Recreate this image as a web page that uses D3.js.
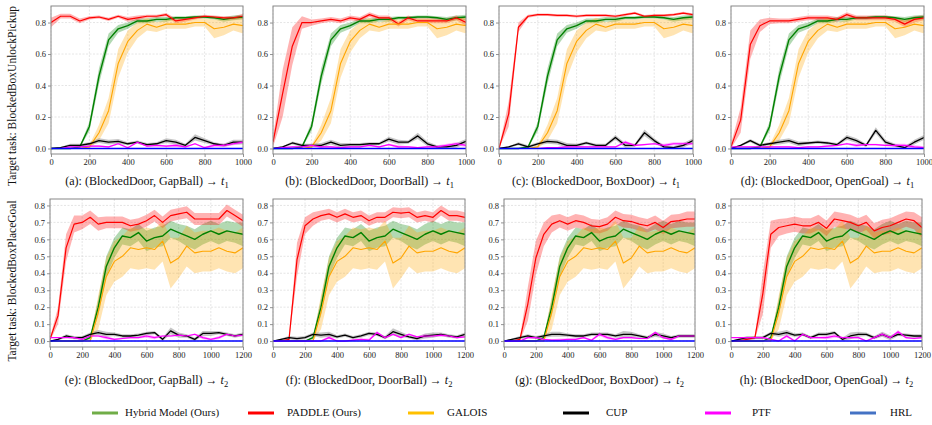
<!DOCTYPE html>
<html>
<head>
<meta charset="utf-8">
<script src="https://cdn.jsdelivr.net/npm/d3@7"></script>
<style>
    body { margin: 0; background: #fff; }
    svg text { font-family: "Liberation Serif", "Times New Roman", Times, "DejaVu Serif", serif !important; }
</style>
</head>
<body>
<svg id="chart" width="932" height="425"></svg>
<script>
// x steps
const stepsTop = [0, 50, 100, 150, 200, 250, 300, 350, 400, 450, 500, 550, 600, 650, 700, 750, 800, 850, 900, 950, 1000];
const stepsBottom = [0, 50, 100, 150, 200, 250, 300, 350, 400, 450, 500, 550, 600, 650, 700, 750, 800, 850, 900, 950, 1000, 1050, 1100, 1150, 1200];

const xTicksTop = [0, 200, 400, 600, 800, 1000];
const xTicksBottom = [0, 200, 400, 600, 800, 1000, 1200];
const yTicksTop = [0, 0.2, 0.4, 0.6, 0.8];
const yTicksBottom = [0, 0.1, 0.2, 0.3, 0.4, 0.5, 0.6, 0.7, 0.8];

const methods = ["Hybrid Model (Ours)", "PADDLE (Ours)", "GALOIS", "CUP", "PTF", "HRL"];
const rowTitles = ["Target task: BlockedBoxUnlockPickup", "Target task: BlockedBoxPlaceGoal"];
const captions = ["(a): (BlockedDoor, GapBall)", "(b): (BlockedDoor, DoorBall)", "(c): (BlockedDoor, BoxDoor)", "(d): (BlockedDoor, OpenGoal)",
                  "(e): (BlockedDoor, GapBall)", "(f): (BlockedDoor, DoorBall)", "(g): (BlockedDoor, BoxDoor)", "(h): (BlockedDoor, OpenGoal)"];

// ---- top row (target t1) ----
const greenTop = [0, 0, 0, 0.01, 0.14, 0.46, 0.69, 0.76, 0.78, 0.81, 0.81, 0.82, 0.82, 0.83, 0.83, 0.835, 0.835, 0.83, 0.82, 0.83, 0.835];
const greenTopSd = [0, 0, 0, 0.005, 0.03, 0.05, 0.04, 0.025, 0.02, 0.015, 0.015, 0.015, 0.015, 0.01, 0.01, 0.01, 0.01, 0.01, 0.015, 0.015, 0.015];
const orangeTop = [0, 0, 0, 0, 0.01, 0.10, 0.24, 0.54, 0.68, 0.75, 0.79, 0.77, 0.79, 0.79, 0.79, 0.80, 0.80, 0.76, 0.77, 0.79, 0.78];
const orangeTopSd = [0, 0, 0, 0, 0.01, 0.05, 0.08, 0.09, 0.07, 0.05, 0.04, 0.03, 0.03, 0.03, 0.03, 0.025, 0.025, 0.06, 0.05, 0.04, 0.05];

const redA = [0.80, 0.84, 0.84, 0.81, 0.83, 0.835, 0.82, 0.84, 0.82, 0.83, 0.84, 0.84, 0.85, 0.81, 0.82, 0.83, 0.84, 0.835, 0.83, 0.83, 0.84];
const redASd = [0.03, 0.015, 0.015, 0.015, 0.01, 0.01, 0.01, 0.01, 0.015, 0.015, 0.01, 0.01, 0.01, 0.015, 0.015, 0.01, 0.01, 0.01, 0.01, 0.01, 0.015];
const redB = [0.04, 0.35, 0.65, 0.80, 0.80, 0.81, 0.82, 0.81, 0.83, 0.82, 0.85, 0.83, 0.83, 0.79, 0.83, 0.81, 0.81, 0.81, 0.81, 0.83, 0.80];
const redBSd = [0.03, 0.15, 0.12, 0.04, 0.02, 0.015, 0.015, 0.015, 0.015, 0.015, 0.015, 0.015, 0.015, 0.015, 0.015, 0.015, 0.015, 0.015, 0.015, 0.015, 0.02];
const redC = [0.0, 0.22, 0.77, 0.84, 0.85, 0.85, 0.845, 0.845, 0.84, 0.845, 0.845, 0.845, 0.84, 0.85, 0.86, 0.84, 0.845, 0.845, 0.85, 0.86, 0.85];
const redCSd = [0.005, 0.08, 0.03, 0.01, 0.008, 0.008, 0.008, 0.008, 0.008, 0.008, 0.008, 0.008, 0.008, 0.008, 0.008, 0.008, 0.008, 0.008, 0.008, 0.008, 0.008];
const redD = [0.01, 0.18, 0.66, 0.78, 0.81, 0.81, 0.81, 0.82, 0.83, 0.83, 0.83, 0.82, 0.85, 0.83, 0.83, 0.83, 0.83, 0.82, 0.79, 0.82, 0.83];
const redDSd = [0.02, 0.08, 0.09, 0.04, 0.02, 0.015, 0.015, 0.015, 0.015, 0.015, 0.015, 0.015, 0.015, 0.015, 0.015, 0.015, 0.015, 0.015, 0.02, 0.02, 0.015];

const blackA = [0, 0.005, 0.02, 0.02, 0.03, 0.05, 0.04, 0.045, 0.03, 0.04, 0.025, 0.03, 0.05, 0.04, 0.02, 0.07, 0.05, 0.03, 0.02, 0.04, 0.04];
const blackB = [0, 0.01, 0.035, 0.02, 0.02, 0.02, 0.04, 0.02, 0.025, 0.025, 0.03, 0.03, 0.06, 0.04, 0.04, 0.08, 0.03, 0.01, 0.01, 0.02, 0.045];
const blackC = [0, 0.01, 0.03, 0.01, 0.03, 0.045, 0.04, 0.02, 0.02, 0.035, 0.02, 0.02, 0.07, 0.02, 0.02, 0.10, 0.05, 0.01, 0.005, 0.02, 0.05];
const blackD = [0, 0.02, 0.05, 0.02, 0.03, 0.04, 0.05, 0.03, 0.035, 0.04, 0.035, 0.025, 0.07, 0.05, 0.02, 0.115, 0.04, 0.02, 0.005, 0.04, 0.07];
const blackTopSd = [0, 0.005, 0.01, 0.01, 0.01, 0.015, 0.015, 0.015, 0.01, 0.01, 0.01, 0.01, 0.015, 0.015, 0.01, 0.02, 0.015, 0.01, 0.01, 0.015, 0.015];

const magA = [0, 0, 0.01, 0.01, 0.015, 0.015, 0.01, 0.03, 0.005, 0.04, 0.015, 0.02, 0.015, 0.02, 0.01, 0.03, 0.005, 0.02, 0.02, 0.03, 0.04];
const magB = [0, 0.005, 0.01, 0.01, 0.02, 0.01, 0.01, 0.005, 0.01, 0.01, 0.02, 0.01, 0.025, 0.01, 0.01, 0.005, 0.01, 0.01, 0.02, 0.03, 0.02];
const magC = [0, 0, 0, 0, 0, 0.005, 0.005, 0.01, 0.01, 0.01, 0.01, 0.01, 0.01, 0.04, 0.02, 0.025, 0.03, 0.02, 0.03, 0.03, 0.03];
const magD = [0.01, 0.01, 0.01, 0.01, 0.01, 0.01, 0.01, 0.005, 0.01, 0.01, 0.015, 0.02, 0.03, 0.02, 0.025, 0.025, 0.02, 0.02, 0.02, 0.01, 0.005];
const magTopSd = [0, 0, 0.005, 0.005, 0.005, 0.005, 0.005, 0.005, 0.005, 0.005, 0.005, 0.005, 0.005, 0.01, 0.005, 0.005, 0.005, 0.01, 0.01, 0.01, 0.01];

const hrlTop = [0, 0, 0, 0, 0, 0, 0, 0, 0, 0, 0, 0, 0, 0, 0, 0, 0, 0, 0, 0, 0];

// ---- bottom row (target t2) ----
const greenBot = [0, 0, 0, 0, 0, 0.02, 0.20, 0.44, 0.55, 0.62, 0.61, 0.64, 0.59, 0.61, 0.62, 0.66, 0.64, 0.62, 0.60, 0.63, 0.65, 0.63, 0.65, 0.64, 0.63];
const greenBotSd = [0, 0, 0, 0, 0, 0.01, 0.05, 0.06, 0.06, 0.05, 0.05, 0.05, 0.06, 0.06, 0.06, 0.05, 0.05, 0.06, 0.06, 0.06, 0.06, 0.06, 0.06, 0.06, 0.07];
const orangeBot = [0, 0, 0, 0, 0, 0, 0.17, 0.38, 0.47, 0.50, 0.55, 0.54, 0.55, 0.54, 0.59, 0.46, 0.49, 0.56, 0.52, 0.53, 0.53, 0.55, 0.53, 0.52, 0.55];
const orangeBotSd = [0, 0, 0, 0, 0, 0.01, 0.10, 0.11, 0.12, 0.12, 0.12, 0.12, 0.12, 0.12, 0.12, 0.15, 0.12, 0.12, 0.12, 0.12, 0.12, 0.12, 0.12, 0.12, 0.12];

const redE = [0.01, 0.15, 0.55, 0.69, 0.70, 0.73, 0.69, 0.70, 0.70, 0.70, 0.68, 0.69, 0.71, 0.74, 0.70, 0.74, 0.75, 0.76, 0.72, 0.72, 0.72, 0.72, 0.77, 0.74, 0.71];
const redESd = [0.01, 0.05, 0.08, 0.05, 0.04, 0.04, 0.04, 0.035, 0.035, 0.035, 0.035, 0.035, 0.035, 0.035, 0.035, 0.035, 0.035, 0.035, 0.035, 0.035, 0.035, 0.035, 0.035, 0.035, 0.035];
const redF = [0, 0, 0.01, 0.48, 0.68, 0.72, 0.74, 0.75, 0.73, 0.75, 0.73, 0.74, 0.71, 0.73, 0.73, 0.76, 0.755, 0.76, 0.73, 0.74, 0.73, 0.77, 0.74, 0.74, 0.73];
const redFSd = [0, 0, 0.01, 0.1, 0.05, 0.04, 0.03, 0.03, 0.03, 0.03, 0.03, 0.03, 0.03, 0.03, 0.03, 0.03, 0.03, 0.03, 0.03, 0.03, 0.03, 0.03, 0.03, 0.03, 0.03];
const redG = [0, 0, 0.01, 0.22, 0.49, 0.63, 0.69, 0.71, 0.69, 0.71, 0.70, 0.68, 0.675, 0.69, 0.73, 0.71, 0.705, 0.69, 0.68, 0.70, 0.67, 0.705, 0.71, 0.72, 0.72];
const redGSd = [0, 0, 0.01, 0.1, 0.1, 0.07, 0.05, 0.04, 0.04, 0.04, 0.04, 0.04, 0.04, 0.04, 0.04, 0.04, 0.04, 0.04, 0.04, 0.04, 0.04, 0.04, 0.04, 0.045, 0.045];
const redH = [0, 0, 0.01, 0.02, 0.28, 0.63, 0.67, 0.68, 0.69, 0.68, 0.68, 0.70, 0.665, 0.72, 0.71, 0.70, 0.68, 0.70, 0.65, 0.67, 0.68, 0.70, 0.72, 0.71, 0.67];
const redHSd = [0, 0, 0.01, 0.01, 0.12, 0.08, 0.05, 0.045, 0.045, 0.045, 0.045, 0.045, 0.045, 0.045, 0.045, 0.045, 0.045, 0.045, 0.045, 0.045, 0.045, 0.045, 0.045, 0.05, 0.06];

const blackE = [0, 0.01, 0.03, 0.02, 0.02, 0.04, 0.05, 0.04, 0.04, 0.03, 0.03, 0.035, 0.045, 0.05, 0.01, 0.06, 0.035, 0.03, 0.01, 0.045, 0.045, 0.05, 0.04, 0.03, 0.04];
const blackF = [0, 0.01, 0.02, 0.015, 0.02, 0.04, 0.035, 0.04, 0.025, 0.035, 0.02, 0.03, 0.045, 0.04, 0.02, 0.055, 0.04, 0.025, 0.015, 0.03, 0.035, 0.04, 0.03, 0.025, 0.04];
const blackG = [0, 0.01, 0.02, 0.03, 0.02, 0.03, 0.04, 0.04, 0.035, 0.03, 0.03, 0.04, 0.04, 0.04, 0.03, 0.04, 0.04, 0.03, 0.02, 0.04, 0.03, 0.02, 0.03, 0.03, 0.03];
const blackH = [0, 0.01, 0.02, 0.02, 0.02, 0.045, 0.04, 0.05, 0.035, 0.04, 0.02, 0.04, 0.04, 0.05, 0.01, 0.03, 0.04, 0.04, 0.02, 0.04, 0.02, 0.04, 0.035, 0.03, 0.03];
const blackBotSd = [0, 0.005, 0.01, 0.01, 0.01, 0.01, 0.015, 0.015, 0.01, 0.01, 0.01, 0.01, 0.01, 0.01, 0.01, 0.02, 0.015, 0.01, 0.01, 0.015, 0.015, 0.01, 0.01, 0.01, 0.01];

const magE = [0.02, 0.02, 0.02, 0.02, 0.01, 0.03, 0.03, 0.02, 0.01, 0.015, 0.02, 0.02, 0.03, 0.02, 0.03, 0.03, 0.035, 0.03, 0.04, 0.02, 0.01, 0.02, 0.04, 0.03, 0.035];
const magF = [0, 0, 0, 0, 0, 0, 0, 0.02, 0, 0, 0.005, 0.01, 0.005, 0.05, 0.02, 0.04, 0.02, 0.04, 0.025, 0.03, 0.03, 0.035, 0.03, 0.02, 0.025];
const magG = [0, 0, 0, 0.02, 0.02, 0.01, 0.005, 0.005, 0.01, 0.01, 0.02, 0.005, 0.04, 0.02, 0.01, 0.02, 0.02, 0.015, 0.015, 0.05, 0.02, 0.01, 0.03, 0.03, 0.03];
const magH = [0.02, 0.02, 0.02, 0.02, 0.02, 0.01, 0, 0.03, 0, 0.04, 0.02, 0.02, 0.02, 0.03, 0.02, 0.02, 0.02, 0, 0.02, 0.04, 0.02, 0.055, 0.02, 0.015, 0.02];
const magBotSd = [0, 0, 0, 0.005, 0.005, 0.005, 0.005, 0.01, 0.005, 0.005, 0.005, 0.005, 0.01, 0.01, 0.005, 0.005, 0.005, 0.005, 0.005, 0.01, 0.005, 0.01, 0.005, 0.005, 0.005];

const hrlBot = [0, 0, 0, 0, 0, 0, 0, 0, 0, 0, 0, 0, 0, 0, 0, 0, 0, 0, 0, 0, 0, 0, 0, 0, 0];

(function () {
    const serif = '"Liberation Serif", "Times New Roman", Times, "DejaVu Serif", serif';
    const lineColors = ["#008000", "#ff0000", "#ffa500", "#000000", "#ff00ff", "#0000ff"];
    const legendColors = ["#70ad47", "#ff0000", "#ffc000", "#000000", "#ff00ff", "#4472c4"];

    // frame boxes per panel [left, right]
    const frames = [[51, 243], [273, 466], [499, 693], [731, 924],
                    [50, 243], [273, 465], [504, 695], [731, 922]];
    const rows = [
        { top: 6, bottom: 154, domain: [-0.035, 0.905], steps: stepsTop, xmax: 1000, xt: xTicksTop, yt: yTicksTop, sub: "1", capY: 185 },
        { top: 199, bottom: 347, domain: [-0.035, 0.838], steps: stepsBottom, xmax: 1200, xt: xTicksBottom, yt: yTicksBottom, sub: "2", capY: 384 }
    ];

    const panels = [
        [greenTop, greenTopSd, redA, redASd, orangeTop, orangeTopSd, blackA, blackTopSd, magA, magTopSd, hrlTop],
        [greenTop, greenTopSd, redB, redBSd, orangeTop, orangeTopSd, blackB, blackTopSd, magB, magTopSd, hrlTop],
        [greenTop, greenTopSd, redC, redCSd, orangeTop, orangeTopSd, blackC, blackTopSd, magC, magTopSd, hrlTop],
        [greenTop, greenTopSd, redD, redDSd, orangeTop, orangeTopSd, blackD, blackTopSd, magD, magTopSd, hrlTop],
        [greenBot, greenBotSd, redE, redESd, orangeBot, orangeBotSd, blackE, blackBotSd, magE, magBotSd, hrlBot],
        [greenBot, greenBotSd, redF, redFSd, orangeBot, orangeBotSd, blackF, blackBotSd, magF, magBotSd, hrlBot],
        [greenBot, greenBotSd, redG, redGSd, orangeBot, orangeBotSd, blackG, blackBotSd, magG, magBotSd, hrlBot],
        [greenBot, greenBotSd, redH, redHSd, orangeBot, orangeBotSd, blackH, blackBotSd, magH, magBotSd, hrlBot]
    ];

    const svg = d3.select("#chart");

    panels.forEach((p, i) => {
        const row = rows[i < 4 ? 0 : 1];
        const [left, right] = frames[i];
        const xScale = d3.scaleLinear().domain([0, row.xmax]).range([left, right]);
        const yScale = d3.scaleLinear().domain(row.domain).range([row.bottom, row.top]);
        const g = svg.append("g");

        // grid
        g.append("g").selectAll("line").data(row.xt).enter().append("line")
            .attr("x1", d => xScale(d)).attr("x2", d => xScale(d))
            .attr("y1", row.top).attr("y2", row.bottom)
            .attr("stroke", "#d4d4d4").attr("stroke-width", 0.6).attr("stroke-dasharray", "2,1.5");
        g.append("g").selectAll("line").data(row.yt).enter().append("line")
            .attr("y1", d => yScale(d)).attr("y2", d => yScale(d))
            .attr("x1", left).attr("x2", right)
            .attr("stroke", "#d4d4d4").attr("stroke-width", 0.6).attr("stroke-dasharray", "2,1.5");

        const series = [
            { mean: p[0], sd: p[1], c: 0, w: 1.4 },
            { mean: p[2], sd: p[3], c: 1, w: 1.2 },
            { mean: p[4], sd: p[5], c: 2, w: 1.1 },
            { mean: p[6], sd: p[7], c: 3, w: 1.3 },
            { mean: p[8], sd: p[9], c: 4, w: 1.2 },
            { mean: p[10], sd: null, c: 5, w: 1.4 }
        ];

        const clipId = "clip" + i;
        svg.append("clipPath").attr("id", clipId).append("rect")
            .attr("x", left).attr("y", row.top).attr("width", right - left).attr("height", row.bottom - row.top);
        const plot = g.append("g").attr("clip-path", `url(#${clipId})`);

        series.forEach(s => {
            if (!s.sd) return;
            const area = d3.area()
                .x((d, k) => xScale(row.steps[k]))
                .y0((d, k) => yScale(Math.max(0, d - s.sd[k])))
                .y1((d, k) => yScale(d + s.sd[k]));
            plot.append("path").datum(s.mean)
                .attr("d", area)
                .attr("fill", s.c === 3 ? "#808080" : lineColors[s.c])
                .attr("fill-opacity", s.c === 3 ? 0.45 : 0.3);
        });
        series.forEach(s => {
            const line = d3.line()
                .x((d, k) => xScale(row.steps[k]))
                .y(d => yScale(d));
            plot.append("path").datum(s.mean)
                .attr("d", line)
                .attr("fill", "none")
                .attr("stroke", lineColors[s.c])
                .attr("stroke-width", s.w)
                .attr("stroke-linejoin", "round");
        });

        // axes
        const xAxis = g.append("g").attr("transform", `translate(0,${row.bottom})`)
            .call(d3.axisBottom(xScale).tickValues(row.xt).tickFormat(d3.format("d")).tickSize(3).tickPadding(2));
        const yAxis = g.append("g").attr("transform", `translate(${left},0)`)
            .call(d3.axisLeft(yScale).tickValues(row.yt).tickFormat(d3.format(".1f")).tickSize(3).tickPadding(2));
        [xAxis, yAxis].forEach(a => {
            a.attr("font-family", serif).attr("font-size", 8.5);
            a.select(".domain").remove();
            a.selectAll(".tick line").attr("stroke", "#777").attr("stroke-width", 0.8);
            a.selectAll("text").attr("fill", "#222");
        });

        g.append("rect")
            .attr("x", left).attr("y", row.top)
            .attr("width", right - left).attr("height", row.bottom - row.top)
            .attr("fill", "none").attr("stroke", "#888").attr("stroke-width", 1);

        // caption
        const cap = svg.append("text")
            .attr("x", (left + right) / 2).attr("y", row.capY)
            .attr("text-anchor", "middle").attr("font-family", serif)
            .attr("font-size", 12).attr("fill", "#111");
        cap.append("tspan").text(captions[i] + " \u2192 ");
        cap.append("tspan").attr("font-style", "italic").text("t");
        cap.append("tspan").attr("font-size", 8.5).attr("dy", 2.5).text(row.sub);
    });

    // row titles
    [[96, 0], [281, 1]].forEach(([cy, r]) => {
        svg.append("text")
            .attr("transform", `translate(13,${cy}) rotate(-90)`)
            .attr("text-anchor", "middle").attr("dominant-baseline", "middle")
            .attr("font-family", serif)
            .attr("font-size", 11.5).attr("fill", "#111")
            .text(rowTitles[r]);
    });

    // legend
    const legendX = [92, 248, 408, 563, 705, 850];
    const legendTextX = [125, 287, 447, 606, 752, 890];
    const legend = svg.append("g");
    methods.forEach((m, i) => {
        legend.append("line")
            .attr("x1", legendX[i]).attr("x2", legendX[i] + 26)
            .attr("y1", 413).attr("y2", 413)
            .attr("stroke", legendColors[i]).attr("stroke-width", 3);
        legend.append("text")
            .attr("x", legendTextX[i]).attr("y", 413)
            .attr("dominant-baseline", "middle")
            .attr("font-family", serif)
            .attr("font-size", 11).attr("fill", "#111")
            .text(m);
    });
})();
</script>
</body>
</html>
